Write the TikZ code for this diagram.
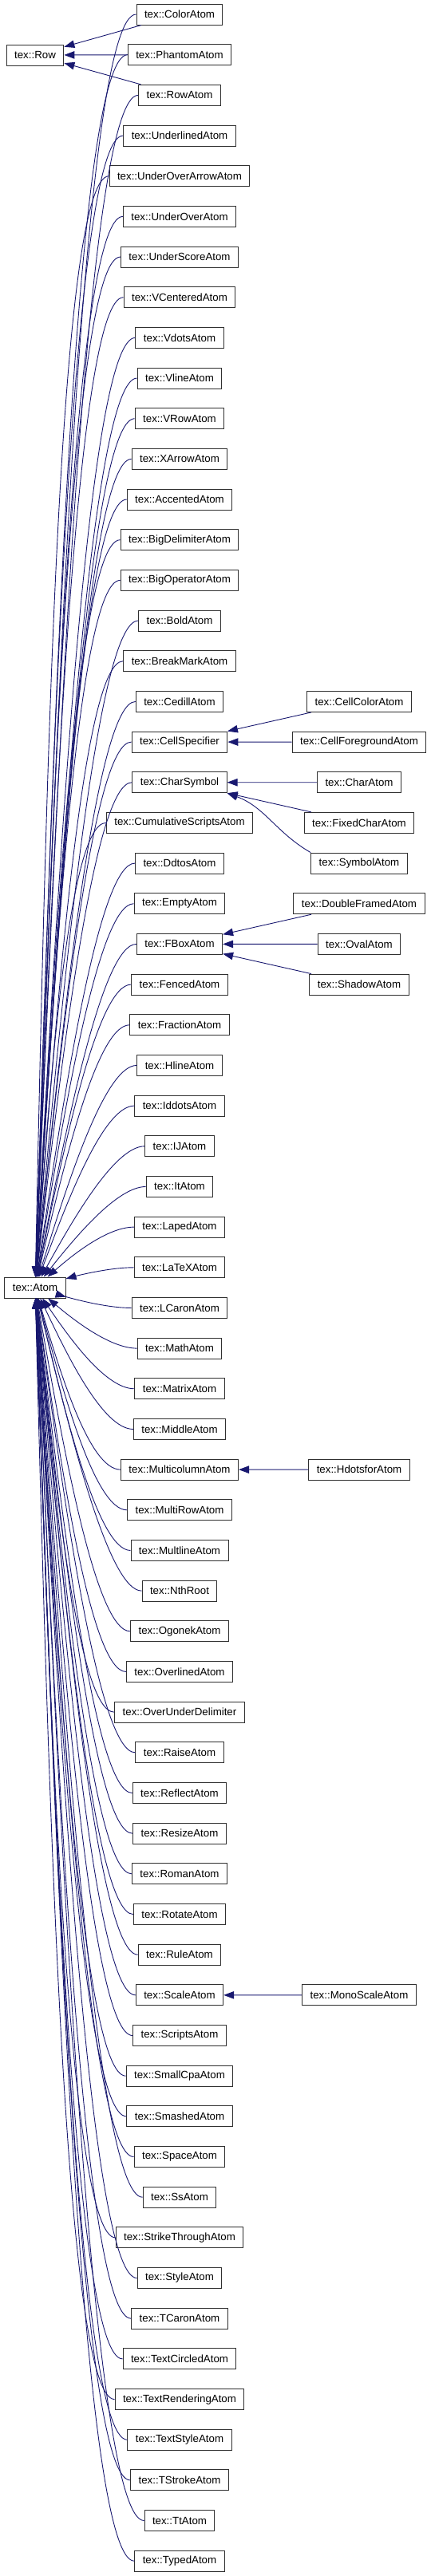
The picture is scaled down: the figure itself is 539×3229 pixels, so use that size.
\documentclass[tikz,border=0pt]{standalone}
\usepackage{fontspec}
\setmainfont{Liberation Sans}
\usepackage{tikz}
\usetikzlibrary{positioning,arrows.meta,calc}
\definecolor{edgeblue}{HTML}{191970}
\definecolor{boxline}{HTML}{303030}

\tikzset{
  cls/.style={draw=boxline, line width=1pt, fill=white, minimum height=26pt,
    inner xsep=10pt, inner ysep=0pt, font=\fontsize{13.3}{15}\selectfont},
  inh/.style={edgeblue, line width=0.9pt, {Triangle[length=13pt,width=9.5pt]}-}
}

\def\atomkids{ColorAtom,PhantomAtom,RowAtom,UnderlinedAtom,UnderOverArrowAtom,
  UnderOverAtom,UnderScoreAtom,VCenteredAtom,VdotsAtom,VlineAtom,VRowAtom,
  XArrowAtom,AccentedAtom,BigDelimiterAtom,BigOperatorAtom,BoldAtom,
  BreakMarkAtom,CedillAtom,CellSpecifier,CharSymbol,CumulativeScriptsAtom,
  DdtosAtom,EmptyAtom,FBoxAtom,FencedAtom,FractionAtom,HlineAtom,IddotsAtom,
  IJAtom,ItAtom,LapedAtom,LaTeXAtom,LCaronAtom,MathAtom,MatrixAtom,MiddleAtom,
  MulticolumnAtom,MultiRowAtom,MultlineAtom,NthRoot,OgonekAtom,OverlinedAtom,
  OverUnderDelimiter,RaiseAtom,ReflectAtom,ResizeAtom,RomanAtom,RotateAtom,
  RuleAtom,ScaleAtom,ScriptsAtom,SmallCpaAtom,SmashedAtom,SpaceAtom,SsAtom,
  StrikeThroughAtom,StyleAtom,TCaronAtom,TextCircledAtom,TextRenderingAtom,
  TextStyleAtom,TStrokeAtom,TtAtom,TypedAtom}

\begin{document}
\begin{tikzpicture}[x=1pt, y=-1pt]
  \useasboundingbox (0,0) rectangle (539,3229);
  % Base classes
  \node[cls] (Row) at (44,69) {tex::Row};
  \node[cls] (Atom) at (44,1614) {tex::Atom};
  % Direct subclasses, one per row
  \foreach \nm [count=\i from 0] in \atomkids
    \node[cls] (\nm) at (225,18+\i*50.67) {tex::\nm};
  % Third column
  \node[cls] (CellColorAtom) at (450,879.4) {tex::CellColorAtom};
  \node[cls] (CellForegroundAtom) at (450,930.1) {tex::CellForegroundAtom};
  \node[cls] (CharAtom) at (450,980.7) {tex::CharAtom};
  \node[cls] (FixedCharAtom) at (450,1031.4) {tex::FixedCharAtom};
  \node[cls] (SymbolAtom) at (450,1082.1) {tex::SymbolAtom};
  \node[cls] (DoubleFramedAtom) at (450,1132.7) {tex::DoubleFramedAtom};
  \node[cls] (OvalAtom) at (450,1183.4) {tex::OvalAtom};
  \node[cls] (ShadowAtom) at (450,1234.1) {tex::ShadowAtom};
  \node[cls] (HdotsforAtom) at (450,1842.1) {tex::HdotsforAtom};
  \node[cls] (MonoScaleAtom) at (450,2500.8) {tex::MonoScaleAtom};
  % Row edges
  \foreach \nm in {ColorAtom,PhantomAtom,RowAtom}
    \draw[inh] (Row) -- (\nm);
  % Atom fan
  \foreach \nm [count=\i from 0] in \atomkids {
    \pgfmathsetmacro{\h}{35+0.02*abs(18+\i*50.67-1614)}
    \draw[inh] (Atom) .. controls ($(Atom)!0.45!([xshift=-\h pt]\nm.west)$)
      and ([xshift=-\h pt]\nm.west) .. (\nm.west);
  }
  % Grandchildren
  \draw[inh] (CellSpecifier) -- (CellColorAtom);
  \draw[inh] (CellSpecifier) -- (CellForegroundAtom);
  \draw[inh] (CharSymbol) -- (CharAtom);
  \draw[inh] (CharSymbol) -- (FixedCharAtom);
  \draw[inh] (CharSymbol.south east) to[out=-20,in=150] (SymbolAtom.north west);
  \draw[inh] (FBoxAtom) -- (DoubleFramedAtom);
  \draw[inh] (FBoxAtom) -- (OvalAtom);
  \draw[inh] (FBoxAtom) -- (ShadowAtom);
  \draw[inh] (MulticolumnAtom) -- (HdotsforAtom);
  \draw[inh] (ScaleAtom) -- (MonoScaleAtom);
\end{tikzpicture}
\end{document}
